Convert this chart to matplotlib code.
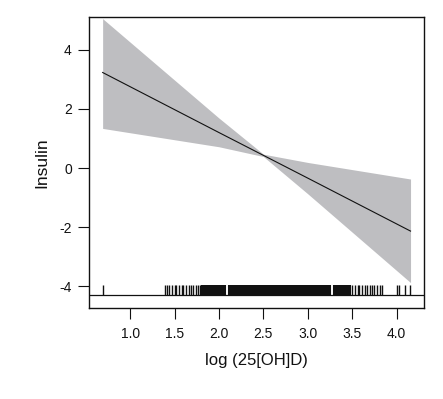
import matplotlib
matplotlib.use("Agg")
import matplotlib.pyplot as plt

plt.rcParams['font.family'] = ['Liberation Sans', 'DejaVu Sans']

# fitted curve and confidence band
x_fit = [0.69, 2.0, 2.5, 3.0, 4.157]
y_fit = [3.23, 1.20, 0.43, -0.34, -2.13]
y_lower = [1.34, 0.72, 0.39, -0.87, -3.87]
y_upper = [5.05, 1.69, 0.47, 0.19, -0.37]

# rug of observed log(25[OH]D) values
rug_left = [0.69,
            1.39, 1.42, 1.44, 1.47, 1.50, 1.52, 1.55, 1.58, 1.60, 1.63,
            1.66, 1.68, 1.71, 1.74, 1.76, 1.79]
rug_dense = [1.81, 1.83, 1.85, 1.87, 1.89, 1.91, 1.93, 1.95, 1.97, 1.99,
             2.01, 2.03, 2.05, 2.07, 2.11, 2.13, 2.15, 2.17, 2.19,
             2.21, 2.23, 2.25, 2.27, 2.29, 2.31, 2.33, 2.35, 2.37, 2.39,
             2.41, 2.43, 2.45, 2.47, 2.49, 2.51, 2.53, 2.55, 2.57, 2.59,
             2.61, 2.63, 2.65, 2.67, 2.69, 2.71, 2.73, 2.75, 2.77, 2.79,
             2.81, 2.83, 2.85, 2.87, 2.89, 2.91, 2.93, 2.95, 2.97, 2.99,
             3.01, 3.03, 3.05, 3.07, 3.09, 3.11, 3.13, 3.15, 3.17, 3.19,
             3.21, 3.23, 3.25, 3.29, 3.31, 3.33, 3.35, 3.37, 3.39, 3.41,
             3.43, 3.45, 3.47]
rug_right = [3.50, 3.53, 3.56, 3.58, 3.61, 3.64, 3.67, 3.70, 3.72, 3.75,
             3.78, 3.81, 3.84,
             4.00, 4.03, 4.10, 4.15]

x_ticks = [1.0, 1.5, 2.0, 2.5, 3.0, 3.5, 4.0]
y_ticks = [-4, -2, 0, 2, 4]

fig = plt.figure(figsize=(4.43, 3.99), dpi=100)
ax = fig.add_axes([0.1998, 0.228, 0.757, 0.729])

ax.fill_between(x_fit, y_lower, y_upper, color='#bebec1', linewidth=0)
ax.plot(x_fit, y_fit, color='#111111', linewidth=0.8)

# rug and its base line
rug_base = -4.29
ax.axhline(rug_base, color='#111111', linewidth=0.9)
ax.vlines(rug_left + rug_right, rug_base, -3.95, color='#111111', linewidth=1.0)
ax.vlines(rug_dense, rug_base, -3.95, color='#111111', linewidth=1.5)

ax.set_xlim(0.531, 4.307)
ax.set_ylim(-4.73, 5.10)
ax.set_xticks(x_ticks)
ax.set_xticklabels(['%.1f' % v for v in x_ticks])
ax.set_yticks(y_ticks)
ax.set_yticklabels([str(v) for v in y_ticks])

ax.tick_params(direction='out', length=8, width=0.8, labelsize=10,
               colors='#111111', pad=4)
ax.tick_params(axis='x', pad=6)
for s in ax.spines.values():
    s.set_linewidth(1.0)
    s.set_color('#111111')

ax.set_xlabel('log (25[OH]D)', fontsize=12, color='#111111', labelpad=8)
ax.set_ylabel('Insulin', fontsize=12.5, color='#111111', labelpad=7)

fig.savefig('out.png', dpi=100)
